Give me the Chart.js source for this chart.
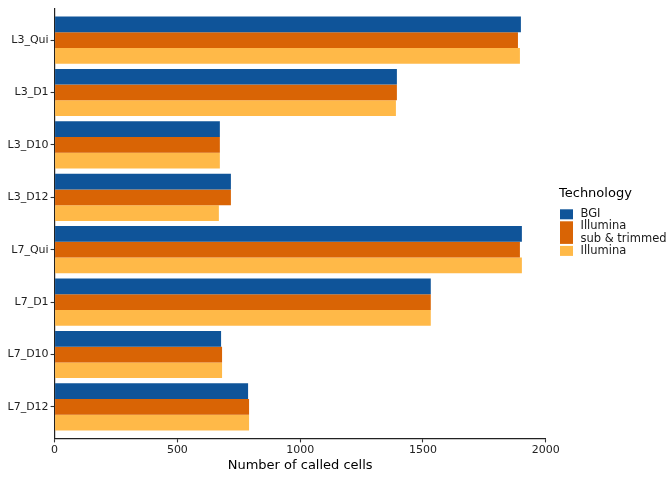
<!DOCTYPE html>
<html>
<head>
<meta charset="utf-8">
<script src="https://cdn.jsdelivr.net/npm/chart.js@4.4.1/dist/chart.umd.min.js"></script>
<style>
  html, body { margin: 0; padding: 0; background: #fff; }
  #wrap { width: 672px; height: 480px; }
</style>
</head>
<body>
<div id="wrap"><canvas id="myChart"></canvas></div>
<script>
const samples = ['L3_Qui', 'L3_D1', 'L3_D10', 'L3_D12', 'L7_Qui', 'L7_D1', 'L7_D10', 'L7_D12'];
const bgiCells = [1899, 1394, 673, 718, 1903, 1532, 678, 788];
const subTrimmedCells = [1887, 1394, 673, 718, 1895, 1532, 682, 792];
const illuminaCells = [1895, 1390, 673, 669, 1903, 1532, 682, 792];
const xTicks = [0, 500, 1000, 1500, 2000];

const FONT = '"DejaVu Sans", sans-serif';

// ggplot-style legend with keys as tall as their (multi-line) labels
const techLegend = {
  id: 'techLegend',
  afterDraw(chart) {
    const ctx = chart.ctx;
    ctx.save();
    ctx.textBaseline = 'middle';
    ctx.fillStyle = '#000';
    ctx.font = '13px ' + FONT;
    ctx.fillText('Technology', 559, 194);
    ctx.font = '11.5px ' + FONT;
    let y = 209.3;
    chart.data.datasets.forEach((ds) => {
      const lines = ds.label.split('\n');
      const h = 12.6 * lines.length - 2.6;
      ctx.fillStyle = ds.backgroundColor;
      ctx.fillRect(560, y, 13, h);
      ctx.fillStyle = '#1a1a1a';
      lines.forEach((line, i) => ctx.fillText(line, 580.5, y + 5 + 12.6 * i));
      y += h + 2;
    });
    ctx.restore();
  },
};

const ctx = document.getElementById('myChart').getContext('2d');
new Chart(ctx, {
  type: 'bar',
  data: {
    labels: samples,
    datasets: [
      { label: 'BGI', data: bgiCells, backgroundColor: '#0f5499' },
      { label: 'Illumina\nsub & trimmed', data: subTrimmedCells, backgroundColor: '#d96405' },
      { label: 'Illumina', data: illuminaCells, backgroundColor: '#ffb948' },
    ],
  },
  options: {
    indexAxis: 'y',
    responsive: true,
    maintainAspectRatio: false,
    animation: false,
    devicePixelRatio: 1,
    categoryPercentage: 0.9,
    barPercentage: 1,
    layout: { padding: { top: 5.6, right: 126.3, left: 0, bottom: 0 } },
    plugins: {
      legend: { display: false },
      tooltip: { enabled: false },
    },
    scales: {
      x: {
        type: 'linear',
        min: 0,
        max: 2000,
        afterBuildTicks: (s) => { s.ticks = xTicks.map((v) => ({ value: v })); },
        afterFit: (s) => { s.height = 41.6; },
        grid: { drawOnChartArea: false, tickLength: 4, color: '#333', tickWidth: 1.1 },
        border: { color: '#222', width: 1.2 },
        ticks: {
          font: { family: FONT, size: 11 },
          color: '#222',
          padding: 1,
          maxRotation: 0,
          callback: (v) => String(v),
        },
        title: {
          display: true,
          text: 'Number of called cells',
          font: { family: FONT, size: 13 },
          color: '#000',
          padding: { top: 0, bottom: 7 },
        },
      },
      y: {
        type: 'category',
        // ggplot discrete expansion: 0.6 of a category on each side
        afterBuildTicks: (s) => { s._startValue = -0.6; s._valueRange = samples.length + 0.2; },
        afterFit: (s) => { s.width = 54.6; },
        grid: { offset: false, drawOnChartArea: false, tickLength: 4, color: '#333', tickWidth: 1.1 },
        border: { color: '#222', width: 1.2 },
        ticks: { font: { family: FONT, size: 11 }, color: '#222', padding: 2 },
      },
    },
  },
  plugins: [techLegend],
});
</script>
</body>
</html>
